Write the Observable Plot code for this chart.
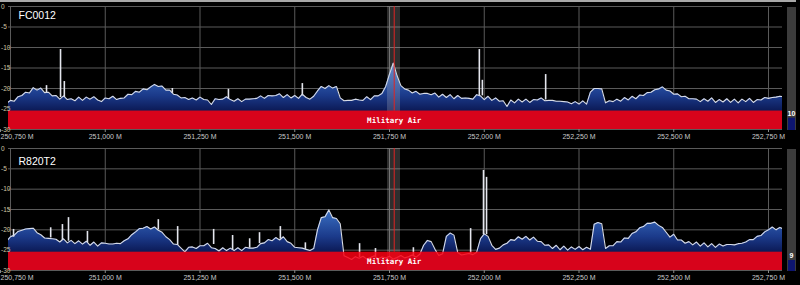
<!DOCTYPE html>
<html><head><meta charset="utf-8">
<script src="https://cdn.jsdelivr.net/npm/d3@7"></script>
<script src="https://cdn.jsdelivr.net/npm/@observablehq/plot@0.6"></script>
<style>
html,body{margin:0;padding:0;background:#000;width:800px;height:285px;overflow:hidden}
#top{position:absolute;left:0;top:0}
#bot{position:absolute;left:0;top:142px}
svg{display:block}
</style></head><body>
<div id="top"></div><div id="bot"></div>
<script>
// frequency bins (kHz)
const freqStart = 250740, freqStep = 10;
const xTicks = [250750, 251000, 251250, 251500, 251750, 252000, 252250, 252500, 252750];
const yTicks = [0, -5, -10, -15, -20, -25, -30];
const panelNames = ["FC0012", "R820T2"];
const bandName = "Military Air";
const bandTopDb = -25.5;
const selLo = 251744.7, selHi = 251779.0, selCenter = 251762.4;
const meterLevels = [10, 9];

// spectrum levels (dB), one per bin
const fc0012Db = [
 -23.6,-22.9,-23.1,-22.0,-21.7,-20.9,-21.1,-19.8,-20.4,-19.9,
 -21.0,-20.9,-21.8,-21.7,-22.6,-21.8,-22.7,-22.5,-23.0,-22.1,
 -22.9,-22.1,-22.6,-22.0,-22.8,-23.2,-22.3,-22.5,-21.9,-22.7,
 -22.4,-22.3,-21.4,-21.5,-20.7,-20.9,-20.1,-20.3,-19.6,-19.0,
 -19.5,-19.4,-20.4,-20.4,-21.4,-21.6,-22.3,-22.2,-22.7,-22.3,
 -22.8,-22.1,-22.7,-22.8,-23.9,-22.5,-22.7,-22.6,-22.0,-22.7,
 -23.1,-22.5,-23.2,-22.6,-22.6,-22.5,-22.4,-21.8,-22.4,-21.7,
 -21.8,-21.7,-21.3,-22.2,-21.5,-22.3,-21.7,-22.4,-21.4,-22.2,
 -22.6,-21.9,-20.6,-19.5,-20.0,-19.3,-19.9,-19.5,-22.3,-23.0,
 -22.9,-22.9,-22.6,-22.8,-22.9,-22.0,-22.7,-21.8,-21.8,-21.2,
 -19.5,-16.5,-13.8,-16.9,-19.3,-20.1,-20.4,-21.1,-20.7,-21.4,
 -21.2,-21.2,-21.5,-21.1,-22.1,-21.4,-22.2,-21.5,-22.5,-21.7,
 -22.4,-22.3,-22.4,-22.6,-21.5,-21.8,-22.7,-21.9,-22.9,-22.3,
 -23.1,-23.0,-24.4,-22.8,-23.5,-22.6,-23.3,-22.6,-23.4,-22.7,
 -22.8,-22.3,-23.0,-22.9,-22.9,-23.1,-23.1,-23.2,-23.3,-23.7,
 -23.2,-23.8,-23.0,-23.8,-20.9,-20.0,-20.0,-20.1,-23.5,-23.0,
 -23.2,-22.6,-23.1,-22.2,-22.8,-21.9,-22.5,-21.6,-21.7,-21.0,
 -20.9,-20.3,-20.1,-19.6,-20.4,-20.6,-21.4,-21.3,-22.0,-21.9,
 -22.5,-22.5,-22.6,-23.2,-22.5,-23.1,-22.3,-23.4,-22.7,-23.3,
 -22.5,-23.4,-22.6,-23.5,-22.6,-23.2,-22.4,-23.4,-22.7,-22.8,
 -22.2,-22.4,-22.2,-22.1,-21.9,-22.0
];
const r820t2Db = [
 -22.8,-21.7,-21.3,-20.4,-20.1,-19.8,-19.7,-19.6,-20.7,-21.2,
 -22.0,-22.1,-22.2,-22.3,-23.0,-22.2,-23.2,-22.6,-23.4,-22.7,
 -23.5,-22.8,-23.8,-23.0,-24.0,-23.2,-23.3,-23.5,-23.5,-23.3,
 -23.4,-22.7,-22.2,-21.2,-20.5,-19.7,-19.6,-19.2,-19.8,-19.3,
 -20.1,-20.6,-21.7,-22.4,-23.5,-23.6,-24.5,-25.4,-24.3,-24.2,
 -24.6,-23.9,-23.9,-23.3,-24.4,-24.6,-25.2,-24.4,-25.1,-24.5,
 -25.1,-24.4,-25.1,-24.3,-24.5,-24.5,-24.3,-23.4,-23.2,-22.4,
 -22.7,-21.9,-22.5,-21.7,-22.9,-23.3,-24.3,-24.4,-24.5,-24.8,
 -25.1,-24.6,-20.0,-17.0,-16.8,-15.1,-17.0,-17.2,-18.5,-26.4,
 -26.8,-27.3,-26.6,-27.0,-26.5,-27.2,-26.8,-26.4,-27.1,-26.7,
 -26.9,-26.5,-27.2,-26.8,-26.3,-26.9,-26.6,-26.2,-26.7,-26.0,
 -23.8,-22.6,-22.9,-24.8,-26.3,-25.9,-21.6,-20.8,-21.3,-25.6,
 -26.2,-26.0,-25.8,-26.1,-25.5,-22.2,-21.0,-21.6,-23.8,-24.8,
 -24.5,-23.7,-23.3,-22.4,-22.6,-21.7,-22.3,-21.6,-22.5,-21.8,
 -22.8,-22.9,-23.8,-23.7,-24.6,-23.8,-24.9,-24.0,-25.0,-24.2,
 -24.8,-24.1,-24.9,-24.3,-24.8,-18.6,-18.2,-18.5,-24.6,-23.9,
 -23.9,-22.9,-23.0,-22.0,-22.1,-20.9,-20.5,-19.5,-19.2,-18.4,
 -18.4,-18.1,-18.9,-19.4,-20.6,-21.8,-21.1,-22.5,-22.5,-23.3,
 -22.9,-23.7,-23.0,-24.0,-23.2,-24.2,-23.4,-24.3,-23.5,-24.0,
 -23.6,-23.6,-23.7,-23.4,-23.3,-23.0,-22.4,-22.4,-21.6,-21.4,
 -20.5,-20.0,-19.3,-20.0,-19.4,-19.8
];

// narrow carriers
const fc0012SpikeFreq = [250845, 250882, 250892, 251177, 251325, 251520, 251987, 251995, 252162];
const fc0012SpikePeak = [-19.3, -10.5, -18.3, -20.0, -20.2, -18.8, -10.5, -18.0, -16.6];
const fc0012SpikeBase = [-21.0, -22.2, -22.2, -21.2, -22.6, -21.8, -21.7, -21.8, -22.8];
const r820t2SpikeFreq = [250758, 250856, 250887, 250903, 250953, 251140, 251191, 251286, 251336, 251381, 251407, 251462, 251528, 251671, 251713, 251813, 251964, 251998, 252006];
const r820t2SpikePeak = [-19.9, -19.5, -18.7, -17.0, -20.4, -17.5, -19.2, -19.9, -21.4, -22.2, -20.7, -19.2, -23.2, -23.4, -24.6, -24.4, -19.7, -5.4, -7.1];
const r820t2SpikeBase = [-21.8, -22.0, -22.6, -22.8, -23.2, -20.0, -23.8, -23.6, -25.0, -24.5, -23.4, -22.3, -24.8, -26.8, -26.7, -26.6, -25.8, -21.2, -21.2];

const xDomain = [250744.7, 252786.9];
const fmtFreq = d => d3.format(",")(d) + " M";

function drawPanel(host, p) {
  const data = p.db.map((v, i) => ({f: freqStart + i * freqStep, db: v}));
  const spikes = p.spikeFreq.map((f, i) => ({f, base: p.spikeBase[i], peak: p.spikePeak[i]}));
  const gid = "grad-" + p.name;
  const axisStyle = {tickFormat: fmtFreq, tickSize: 3, tickPadding: 2, fontSize: 7, fill: "#c8c8c8", stroke: "#888", label: null};
  const svg = Plot.plot({
    width: 800, height: p.height,
    marginTop: 6, marginBottom: p.mb, marginLeft: 8, marginRight: 18,
    style: {background: "#000", color: "#c8c8c8", fontFamily: "'Liberation Sans', Arial, sans-serif"},
    x: {domain: xDomain, label: null},
    y: {domain: [-30, 0], label: null},
    marks: [
      Plot.gridX(xTicks, {stroke: "#5a5a5a", strokeOpacity: 1}),
      Plot.gridY(yTicks, {stroke: "#5a5a5a", strokeOpacity: 1}),
      Plot.areaY(data, {x: "f", y1: -30, y2: "db", fill: `url(#${gid})`, clip: true}),
      Plot.ruleX(spikes, {x: "f", y1: "base", y2: "peak", stroke: "#e4e6ee", strokeWidth: 1.6, clip: true}),
      Plot.lineY(data, {x: "f", y: "db", stroke: "#d8dce6", strokeWidth: 1.1, clip: true}),
      Plot.rect([selCenter], {x1: selLo, x2: selHi, y1: -30, y2: 0, fill: "#d0d0d0", fillOpacity: 0.22}),
      Plot.ruleX([selCenter], {x: d => d, y1: bandTopDb, y2: 0, stroke: "#e02424", strokeWidth: 1}),
      Plot.rect([bandTopDb], {x1: xDomain[0], x2: xDomain[1], y1: -30, y2: d => d, fill: "#fc0012", fillOpacity: 0.85}),
      Plot.text([bandName], {x: selCenter, y: (bandTopDb - 30) / 2, text: d => d, fill: "#ffffff",
        fontFamily: "'DejaVu Sans Mono', monospace", fontWeight: "bold", fontSize: 7.5}),
      Plot.text([p.name], {frameAnchor: "top-left", dx: 10, dy: p.labelDy, text: d => d, fill: "#ffffff",
        fontSize: 10.5, fontFamily: "'Liberation Sans', Arial, sans-serif"}),
      Plot.axisX(xTicks.slice(0, 1), {...axisStyle, textAnchor: "start", dx: -10}),
      Plot.axisX(xTicks.slice(1), axisStyle),
      Plot.axisY(yTicks, {tickFormat: d => String(d), tickSize: 0, tickPadding: 7.5, textAnchor: "start",
        fontSize: 6.5, fill: "#cfc6a6", label: null})
    ]
  });
  const y = svg.scale("y");
  const x = svg.scale("x");
  const defs = d3.select(svg).insert("defs", ":first-child");
  const g = defs.append("linearGradient").attr("id", gid).attr("gradientUnits", "userSpaceOnUse")
    .attr("x1", 0).attr("x2", 0).attr("y1", y.apply(-12)).attr("y2", y.apply(-26));
  [[0, "#5088de"], [0.35, "#3262b4"], [0.7, "#1b3a8a"], [1, "#0a1650"]].forEach(([o, c]) =>
    g.append("stop").attr("offset", o).attr("stop-color", c));
  // signal meter on the right
  const top = y.apply(0) + 1, bottom = y.apply(-30) + 1, h = bottom - top;
  const mx = x.apply(xDomain[1]) + 5;
  const m = d3.select(svg).append("g");
  m.append("rect").attr("x", mx).attr("y", top).attr("width", 9).attr("height", h).attr("fill", "#3c3c3c");
  const fh = p.level / 100 * h;
  m.append("rect").attr("x", mx + 1).attr("y", bottom - fh).attr("width", 7).attr("height", fh).attr("fill", "#0d1570");
  m.append("text").attr("x", mx + 4.5).attr("y", bottom - fh - 2).attr("text-anchor", "middle")
    .attr("fill", "#ffffff").attr("font-size", 7).attr("font-weight", "bold")
    .attr("font-family", "'Liberation Sans', Arial, sans-serif").text(p.level);
  if (p.strip) {
    d3.select(svg).append("rect").attr("x", 0).attr("y", 0).attr("width", mx + 9).attr("height", 2).attr("fill", "#a8a8a8");
  }
  host.appendChild(svg);
}

drawPanel(document.getElementById("top"), {name: panelNames[0], db: fc0012Db, spikeFreq: fc0012SpikeFreq,
  spikePeak: fc0012SpikePeak, spikeBase: fc0012SpikeBase, level: meterLevels[0], height: 142, mb: 13, labelDy: 5, strip: true});
drawPanel(document.getElementById("bot"), {name: panelNames[1], db: r820t2Db, spikeFreq: r820t2SpikeFreq,
  spikePeak: r820t2SpikePeak, spikeBase: r820t2SpikeBase, level: meterLevels[1], height: 143, mb: 15, labelDy: 9, strip: false});
</script>
</body></html>
